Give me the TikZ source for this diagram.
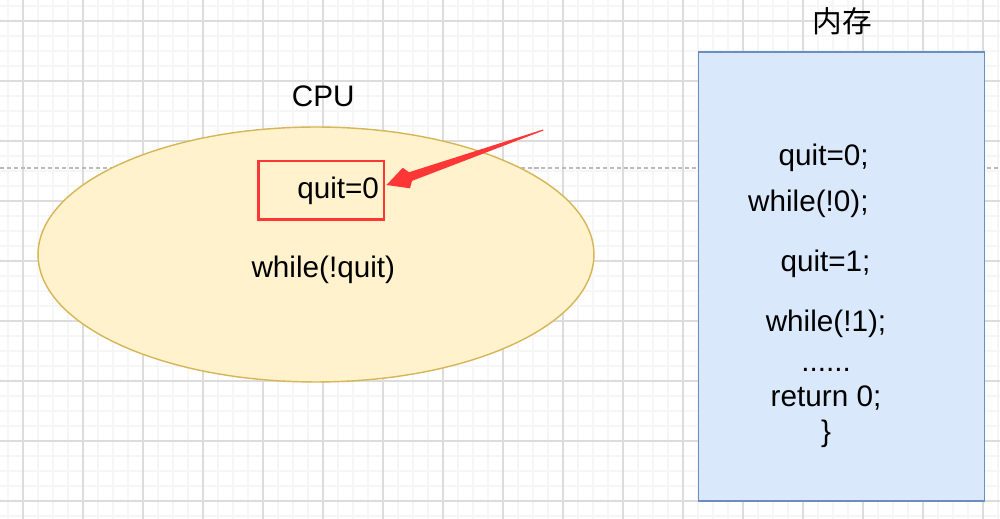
\documentclass[tikz,border=0pt]{standalone}
\usepackage{fontspec}
\setmainfont{Liberation Sans}
\newfontfamily\cjkfont{Noto Sans CJK SC}
\usetikzlibrary{shapes,positioning,calc}

\definecolor{cpufill}{HTML}{FFF2CC}
\definecolor{cpuline}{HTML}{D6B656}
\definecolor{memfill}{HTML}{DAE8FC}
\definecolor{memline}{HTML}{6C8EBF}
\definecolor{markred}{HTML}{FF3636}
\definecolor{gridmajor}{HTML}{DCDCDC}
\definecolor{gridminor}{HTML}{F6F6F6}

\tikzset{
  txt/.style={font=\fontsize{16.9}{20}\selectfont, inner sep=0pt, anchor=base},
  cjktxt/.style={txt, font=\cjkfont\fontsize{16.9}{20}\selectfont},
  cpubox/.style={ellipse, draw=cpuline, fill=cpufill, line width=0.8pt,
    minimum width=11.12cm, minimum height=5.1cm, inner sep=0pt},
  membox/.style={rectangle, draw=memline, fill=memfill, line width=0.9pt,
    minimum width=5.72cm, minimum height=8.98cm, inner sep=0pt},
  redbox/.style={rectangle, draw=markred, line width=1.7pt,
    font=\fontsize{16.9}{20}\selectfont, minimum width=2.52cm,
    minimum height=1.18cm, inner xsep=0.1cm, inner ysep=0pt,
    text width=2.32cm, align=right}
}

\begin{document}
\begin{tikzpicture}[x=0.02cm, y=-0.02cm]
    \useasboundingbox (0,0) rectangle (1000,519);
    \fill[white] (0,0) rectangle (1000,519);
    %% grid
    \foreach \gx in {8,23,...,998} \draw[gridminor, line width=0.6pt] (\gx,0) -- (\gx,519);
    \foreach \gy in {6,21,...,516} \draw[gridminor, line width=0.6pt] (0,\gy) -- (1000,\gy);
    \foreach \gx in {23,83,...,983} \draw[gridmajor, line width=0.6pt] (\gx,0) -- (\gx,519);
    \foreach \gy in {21,81,...,501} \draw[gridmajor, line width=0.6pt] (0,\gy) -- (1000,\gy);
    %
    \draw[black!27, line width=0.6pt, dash pattern=on 2.3pt off 1.6pt] (0,168) -- (1000,168);
    %% CPU
    \node[cpubox] (cpu) at (316,254.5) {};
    \node[txt] (cpulabel) at (323.3,106.7) {CPU};
    \node[redbox] (quitbox) at (321,190.5) {quit=0};
    \node[txt] (loop) at (323.3,277.3) {while(!quit)};
    %% memory
    \node[membox] (mem) at (841.5,276.5) {};
    \node[cjktxt] (memlabel) at (842,33) {内存};
    \node[txt, anchor=base east] (m1) at (869,166) {quit=0;};
    \node[txt, anchor=base east] (m2) at (869,212) {while(!0);};
    \node[txt] (m3) at (825.5,272) {quit=1;};
    \node[txt] (m4) at (826,332) {while(!1);};
    \node[txt] (m5) at (826,372) {......};
    \node[txt] (m6) at (826,407) {return 0;};
    \node[txt] (m7) at (826,442) {\}};
    %% arrow
    \coordinate (tail) at (543.3,130);
    \coordinate (tip) at ($(quitbox.east)+(1,-5.5)$);
    \coordinate (hb) at ($(tip)!12pt!(tail)$);
    \coordinate (hj) at ($(tip)!14.5pt!(tail)$);
    \fill[markred] (tip) -- ($(hb)!6.2pt!90:(tail)$) -- ($(hj)!2.6pt!90:(tail)$)
        -- ($(tail)!0.3pt!-90:(hj)$) -- ($(tail)!0.3pt!90:(hj)$)
        -- ($(hj)!2.6pt!-90:(tail)$) -- ($(hb)!6.2pt!-90:(tail)$) -- cycle;
\end{tikzpicture}
\end{document}
